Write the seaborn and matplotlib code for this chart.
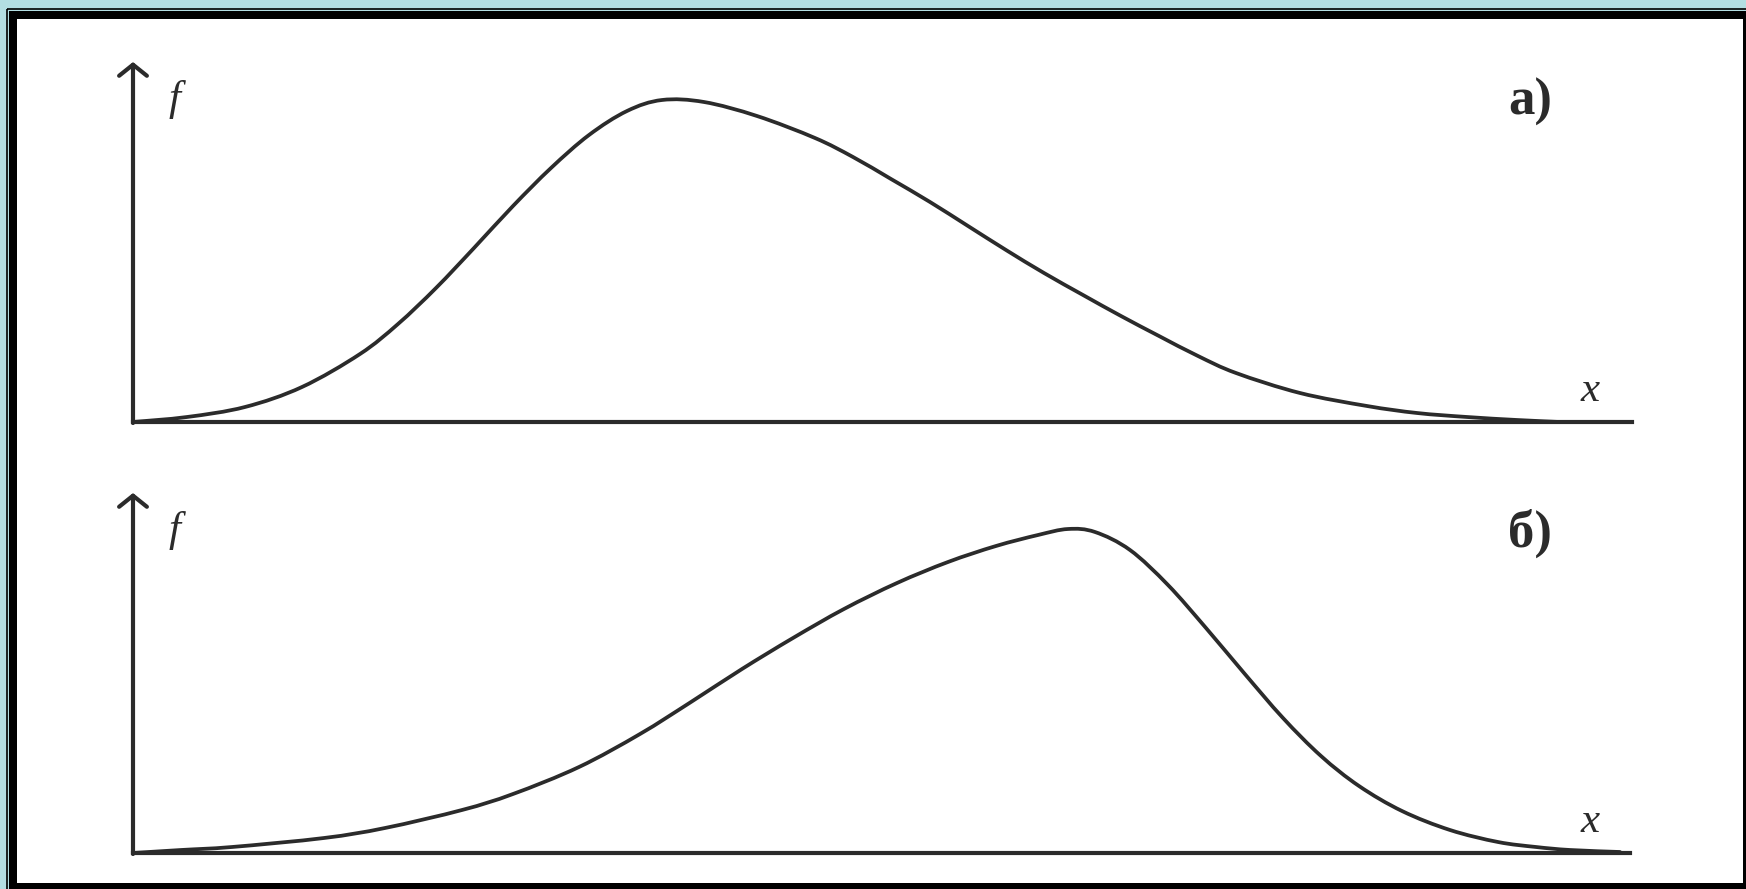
"""
Two skewed frequency distributions (a - right tail, b - left tail),
redrawn from a scanned textbook figure.
"""

import numpy as np
import matplotlib.pyplot as plt
from matplotlib.patches import Rectangle, PathPatch
from matplotlib.path import Path
import seaborn as sns

# curve a): value of the feature x and frequency f (read off the picture)
x_a = [0, 54, 112, 169, 227, 265, 303, 341, 380, 418, 456, 494, 529, 571,
       624, 682, 720, 758, 797, 835, 873, 911, 950, 988, 1026, 1065, 1103,
       1167, 1234, 1284, 1334, 1384, 1427]
f_a = [0, 5, 15, 35, 68, 98, 134, 174, 216, 254, 287, 311, 322, 320,
       306, 284, 265, 243, 220, 196, 172, 149, 127, 106, 86, 66, 49,
       29, 16, 9, 5, 2, 0]

# curve б)
x_b = [0, 48, 99, 191, 252, 329, 380, 446, 507, 558, 609, 660, 711, 764,
       815, 863, 905, 935, 962, 997, 1035, 1073, 1111, 1150, 1188, 1226,
       1269, 1317, 1365, 1403, 1437, 1487]
f_b = [0, 3, 6, 15, 25, 43, 59, 86, 119, 151, 184, 215, 244, 270,
       291, 307, 318, 324, 321, 303, 268, 225, 180, 135, 97, 67,
       42, 23, 11, 6, 3, 1]

panel_labels = ['а)', 'б)']
axis_labels = ['f', 'x']

INK = '#2b2b2b'
FRAME_BLUE = '#b3dee2'

sns.set_theme(style='white')
plt.rcParams['font.family'] = ['Liberation Serif', 'DejaVu Serif']


def smooth_path(xs, ys):
    """Bezier path through the read points (the curve is hand drawn, not a polyline)."""
    pts = np.column_stack([xs, ys]).astype(float)
    n = len(pts)
    verts = [pts[0]]
    codes = [Path.MOVETO]
    for i in range(n - 1):
        p0 = pts[max(i - 1, 0)]
        p1 = pts[i]
        p2 = pts[i + 1]
        p3 = pts[min(i + 2, n - 1)]
        verts += [p1 + (p2 - p0) / 6, p2 - (p3 - p1) / 6, p2]
        codes += [Path.CURVE4] * 3
    return Path(verts, codes)


def draw_panel(ax, xs, fs, label, xmax):
    ax.set_xlim(0, xmax)
    ax.set_ylim(0, 360)
    ax.set_facecolor('none')
    sns.despine(ax=ax, left=True)
    ax.spines['bottom'].set_color(INK)
    ax.spines['bottom'].set_linewidth(3.0)
    ax.set_xticks([])
    ax.set_yticks([])

    # vertical axis with an open arrow head
    ax.annotate('', xy=(0, 360), xytext=(0, -1),
                arrowprops=dict(arrowstyle='->, head_length=0.4, head_width=0.5',
                                lw=3.0, color=INK, shrinkA=0, shrinkB=0,
                                mutation_scale=20),
                annotation_clip=False)

    ax.add_patch(PathPatch(smooth_path(xs, fs), fill=False, ec=INK, lw=2.7,
                           joinstyle='round', capstyle='round'))

    ax.text(42, 322, axis_labels[0], fontsize=31, style='italic',
            color=INK, ha='center', va='center')
    ax.text(1457, 31, axis_labels[1], fontsize=31, style='italic',
            color=INK, ha='center', va='center')
    ax.text(1397, 320, label, fontsize=38, fontweight='bold',
            color=INK, ha='center', va='center')


fig = plt.figure(figsize=(17.46, 8.89), dpi=100)
fig.patch.set_facecolor(FRAME_BLUE)

# scanned page frame
bg = fig.add_axes([0, 0, 1, 1], zorder=-1)
bg.set_xlim(0, 1746)
bg.set_ylim(889, 0)
bg.axis('off')
bg.add_patch(Rectangle((6.5, 8.5), 1760, 900, fill=False, ec='black', lw=1.2))
bg.add_patch(Rectangle((9, 11), 1737, 878, fc='black', ec='none'))
bg.add_patch(Rectangle((17, 19), 1726, 864, fc='white', ec='none'))

ax_a = fig.add_axes([133 / 1746, (889 - 422) / 889, 1499 / 1746, 360 / 889])
ax_b = fig.add_axes([133 / 1746, (889 - 853) / 889, 1497 / 1746, 360 / 889])

draw_panel(ax_a, x_a, f_a, panel_labels[0], 1499)
draw_panel(ax_b, x_b, f_b, panel_labels[1], 1497)

fig.savefig('out.png', dpi=100, facecolor=fig.get_facecolor())
